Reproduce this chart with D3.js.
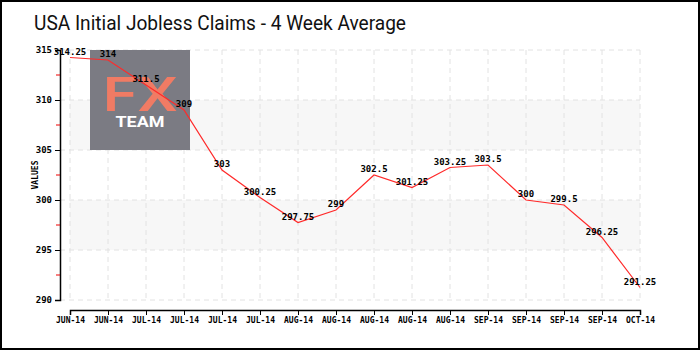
<!DOCTYPE html>
<html><head><meta charset="utf-8">
<script src="https://cdn.jsdelivr.net/npm/d3@7"></script>
<style>body{margin:0;background:#fff}svg{display:block}</style>
</head><body><svg id="c" width="700" height="350"></svg>
<script>
const categories = ["JUN-14","JUN-14","JUL-14","JUL-14","JUL-14","JUL-14","AUG-14","AUG-14","AUG-14","AUG-14","AUG-14","SEP-14","SEP-14","SEP-14","SEP-14","OCT-14"];
const values = [314.25,314,311.5,309,303,300.25,297.75,299,302.5,301.25,303.25,303.5,300,299.5,296.25,291.25];
const labels = ["314.25","314","311.5","309","303","300.25","297.75","299","302.5","301.25","303.25","303.5","300","299.5","296.25","291.25"];
const yTicks = [290,295,300,305,310,315];
const title = "USA Initial Jobless Claims - 4 Week Average";

const svg = d3.select("#c");
svg.append("rect").attr("x",1).attr("y",1).attr("width",698).attr("height",348).attr("fill","#fff").attr("stroke","#000").attr("stroke-width",2);
svg.append("text").attr("x",34).attr("y",30).attr("font-family","Roboto, sans-serif").attr("font-weight",400).attr("font-size",21)
  .attr("textLength",372).attr("lengthAdjust","spacingAndGlyphs").attr("fill","#111").text(title);

const x = d3.scalePoint().domain(d3.range(categories.length)).range([70,640]);
const y = d3.scaleLinear().domain([290,315]).range([300,50]);
const mono = "DejaVu Sans Mono, monospace";

// bands
const g = svg.append("g");
[[305,310],[295,300]].forEach(b=>{
  g.append("rect").attr("x",70).attr("width",570).attr("y",y(b[1])).attr("height",y(b[0])-y(b[1])).attr("fill","#f7f7f7");
});
// grid
g.selectAll(".hg").data(yTicks).join("line").attr("x1",60).attr("x2",640).attr("y1",d=>y(d)).attr("y2",d=>y(d)).attr("stroke","#e2e2e2").attr("stroke-dasharray","5,4");
g.selectAll(".vg").data(d3.range(categories.length)).join("line").attr("x1",d=>x(d)).attr("x2",d=>x(d)).attr("y1",50).attr("y2",300).attr("stroke","#e2e2e2").attr("stroke-dasharray","5,4");

// logo
svg.append("rect").attr("x",90).attr("y",50).attr("width",100).attr("height",100).attr("fill","#7b7b83");
svg.append("text").attr("x",140).attr("y",111).attr("text-anchor","middle").attr("font-family","Roboto, sans-serif").attr("font-weight",500).attr("font-size",48)
  .attr("textLength",75).attr("lengthAdjust","spacingAndGlyphs").attr("fill","#f07b64").text("FX");
svg.append("text").attr("x",140).attr("y",127).attr("text-anchor","middle").attr("font-family","Roboto, sans-serif").attr("font-weight",700).attr("font-size",14)
  .attr("textLength",49).attr("lengthAdjust","spacingAndGlyphs").attr("fill","#fff").text("TEAM");

// y axis
const ya = svg.append("g").attr("transform","translate(60,0)").call(d3.axisLeft(y).tickValues(yTicks).tickSize(5).tickFormat(d3.format("d")));
ya.selectAll("text").attr("font-family",mono).attr("font-size",9).attr("font-weight","bold").attr("fill","#000");
ya.select(".domain").attr("stroke","#000").attr("stroke-width",1.5);
ya.selectAll(".minor").data([292.5,297.5,302.5,307.5,312.5]).join("line").attr("x1",-4).attr("x2",0).attr("y1",d=>y(d)).attr("y2",d=>y(d)).attr("stroke","#e00");
svg.append("text").attr("transform","translate(38,175) rotate(-90)").attr("text-anchor","middle").attr("font-family",mono).attr("font-size",8).attr("font-weight","bold").text("VALUES");

// x axis
const xa = svg.append("g").attr("transform","translate(0,310)").call(d3.axisBottom(x).tickSize(5).tickFormat(i=>categories[i]));
xa.selectAll("text").attr("font-family",mono).attr("font-size",8).attr("font-weight","bold").attr("fill","#000").attr("dy","0.6em");
xa.select(".domain").attr("stroke","#000").attr("stroke-width",1.5);

// line
const line = d3.line().x((d,i)=>x(i)).y(d=>y(d));
svg.append("path").datum(values).attr("d",line).attr("fill","none").attr("stroke","#ff2a2a").attr("stroke-width",1.2);
svg.selectAll(".lbl").data(values).join("text").attr("x",(d,i)=>x(i)).attr("y",d=>y(d)-3).attr("text-anchor","middle").attr("font-family",mono).attr("font-size",9).attr("font-weight","bold").attr("fill","#000").text((d,i)=>labels[i]);
</script></body></html>
